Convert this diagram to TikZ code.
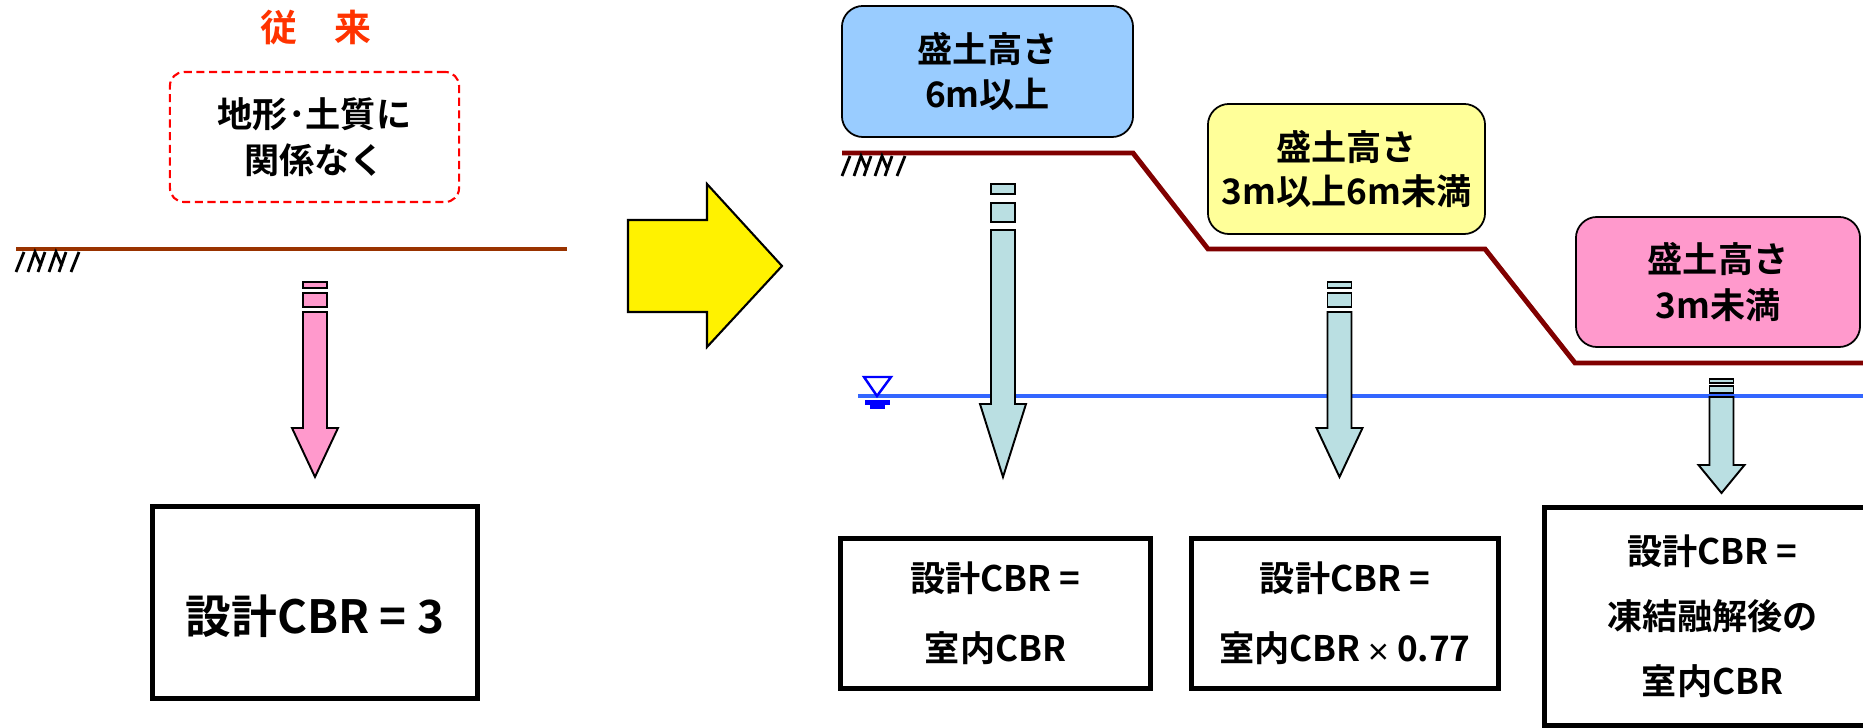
\documentclass[tikz,border=0pt]{standalone}
\usepackage{fontspec}
\setmainfont{Noto Sans CJK JP}[BoldFont={Noto Sans CJK JP Bold}]

\definecolor{convred}{RGB}{255,51,0}
\definecolor{groundbrown}{RGB}{153,51,0}
\definecolor{embankred}{RGB}{128,0,0}
\definecolor{waterblue}{RGB}{51,102,255}
\definecolor{markblue}{RGB}{0,0,255}
\definecolor{skyblue}{RGB}{153,204,255}
\definecolor{paleyellow}{RGB}{255,255,153}
\definecolor{softpink}{RGB}{255,153,204}
\definecolor{pileblue}{RGB}{186,223,226}

\begin{document}
\begin{tikzpicture}[x=0.01cm, y=-0.01cm,
  headbox/.style={draw, rounded corners=6pt, line width=0.5pt, align=center, inner sep=0pt,
    font=\fontsize{10pt}{13pt}\selectfont\bfseries},
  cbrbox/.style={draw, line width=1.4pt, align=center, inner sep=0pt,
    font=\fontsize{10pt}{20pt}\selectfont\bfseries},
  pile/.style={draw, line width=0.55pt},
  hatch/.style={line width=0.8pt}]

  \useasboundingbox (0,0) rectangle (1863,728);

  %left: conventional
  \node[text=convred, font=\fontsize{10.5pt}{12pt}\selectfont\bfseries] (conv) at (316,28) {従　来};
  \node[draw=red, dash pattern=on 2.3pt off 1.3pt, line width=0.6pt, rounded corners=4pt,
        minimum width=2.89cm, minimum height=1.30cm, align=center, inner sep=0pt,
        font=\fontsize{10pt}{13pt}\selectfont\bfseries] (cond) at (314.5,137) {地形･土質に\\関係なく};

  %ground lines
  \draw[groundbrown, line width=1.4pt] (16,249) -- (567,249);
  \draw[embankred, line width=1.4pt] (842,153) -- (1133,153) -- (1208,249) -- (1485,249)
        -- (1575,363) -- (1870,363);

  % hatch marks
  \foreach \hx/\hy in {16/252, 842/156}
    \draw[hatch, shift={(\hx,\hy)}] (0,20) -- (8,0) (12,20) -- (19,0) -- (25,14)
          (22,20) -- (29,0) (33,20) -- (40,0) -- (46,14) (43,20) -- (50,0) (55,20) -- (63,0);

  %big arrow
  \draw[fill=yellow, line width=0.6pt] (628,220) -- (707,220) -- (707,184) -- (782,266)
        -- (707,347) -- (707,312) -- (628,312) -- cycle;

  %embankment height
  \node[headbox, fill=skyblue, minimum width=2.91cm, minimum height=1.31cm] (high) at (987.5,71.5) {盛土高さ\\6m以上};
  \node[headbox, fill=paleyellow, minimum width=2.77cm, minimum height=1.30cm,
        font=\fontsize{10pt}{12.5pt}\selectfont\bfseries] (mid) at (1346.5,169) {盛土高さ\\3m以上6m未満};
  \node[headbox, fill=softpink, minimum width=2.84cm, minimum height=1.30cm] (low) at (1718,282) {盛土高さ\\3m未満};

  %ground water
  \draw[waterblue, line width=1.05pt] (858,396) -- (1870,396);
  \draw[markblue, line width=0.7pt] (864,377) -- (891,377) -- (877,396) -- cycle;
  \fill[markblue] (865,400) rectangle (890,405);
  \fill[markblue] (870,405) rectangle (885,409);

  %piles
  \foreach \cx/\ya/\yb/\yc/\yd/\ye/\yh/\yt/\col in
      {315/282/288/293/307/312/428/477/softpink, 1003/184/194/203/222/230/404/477/pileblue,
       1339.5/282/288/293/307/312/428/477/pileblue, 1721.5/379/383/386/393/397/465/493/pileblue}
  {
    \draw[pile, fill=\col] (\cx-12,\ya) rectangle (\cx+12,\yb);
    \draw[pile, fill=\col] (\cx-12,\yc) rectangle (\cx+12,\yd);
    \draw[pile, fill=\col] (\cx-12,\ye) -- (\cx+12,\ye) -- (\cx+12,\yh) -- (\cx+23,\yh)
          -- (\cx,\yt) -- (\cx-23,\yh) -- (\cx-12,\yh) -- cycle;
  }

  %design CBR
  \node[cbrbox, minimum width=3.24cm, minimum height=1.91cm, font=\fontsize{13pt}{16pt}\selectfont\bfseries]
        (cbrconv) at (315,602.5) {\raisebox{-0.14cm}[\height][\depth]{設計CBR = 3}};
  \node[cbrbox, minimum width=3.09cm, minimum height=1.49cm] (cbrhigh) at (995.5,613.5) {設計CBR =\\室内CBR};
  \node[cbrbox, minimum width=3.06cm, minimum height=1.49cm] (cbrmid) at (1345,613.5)
        {設計CBR =\\室内CBR\,{\fontsize{7pt}{7pt}\selectfont ×}\,0.77};
  \node[cbrbox, minimum width=3.35cm, minimum height=2.17cm, font=\fontsize{10pt}{18.5pt}\selectfont\bfseries]
        (cbrlow) at (1712.5,616.5) {設計CBR =\\凍結融解後の\\室内CBR};
\end{tikzpicture}
\end{document}
